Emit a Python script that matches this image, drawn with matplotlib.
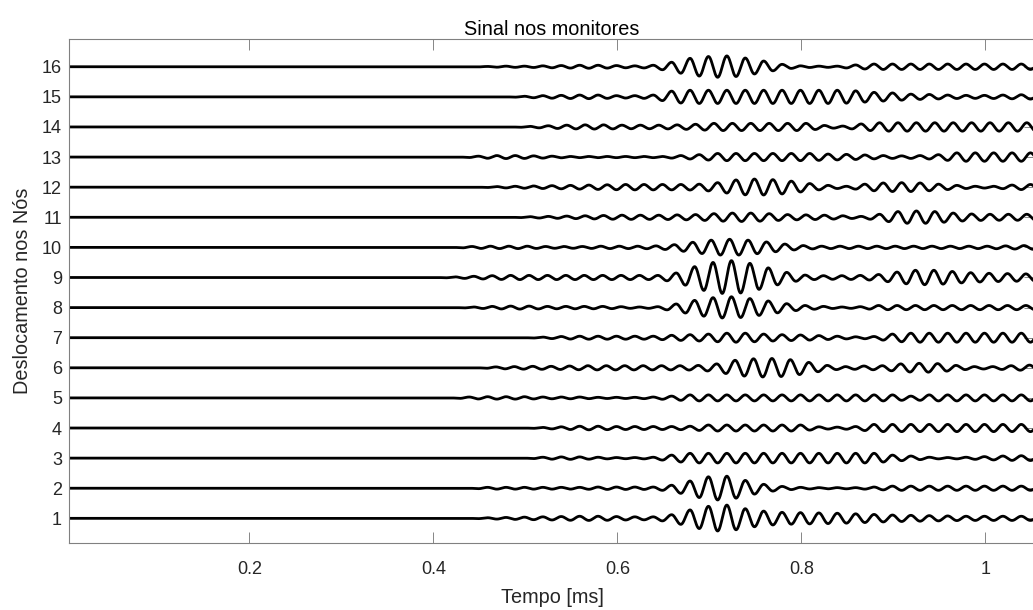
import numpy as np
import matplotlib
matplotlib.use("Agg")
import matplotlib.pyplot as plt

plt.rcParams['font.family'] = ['Liberation Sans', 'DejaVu Sans']

# Monitor signals: each node has a sequence of per-cycle amplitudes
# (one value per carrier period, first crest at FIRST_CREST ms).
PERIOD = 0.02          # ms
FIRST_CREST = 0.399    # ms

node_ids = list(range(1, 17))

amp_node01 = [0, 0, 0, 0.02, 0.03, 0.04, 0.05, 0.06, 0.07, 0.07, 0.06, 0.05, 0.05, 0.12, 0.28, 0.40, 0.44,
              0.32, 0.24, 0.20, 0.19, 0.18, 0.17, 0.15, 0.13, 0.11, 0.10, 0.09, 0.08, 0.07, 0.07, 0.07, 0.07, 0.07]
amp_node02 = [0, 0, 0, 0.03, 0.03, 0.03, 0.03, 0.03, 0.03, 0.04, 0.04, 0.04, 0.04, 0.10, 0.24, 0.38, 0.40,
              0.26, 0.13, 0.06, 0.03, 0.02, 0.02, 0.02, 0.04, 0.07, 0.07, 0.07, 0.07, 0.07, 0.07, 0.07, 0.07, 0.07]
amp_node03 = [0, 0, 0, 0, 0, 0, 0.03, 0.04, 0.04, 0.03, 0.02, 0.02, 0.03, 0.10, 0.16, 0.16, 0.16,
              0.16, 0.16, 0.16, 0.16, 0.16, 0.16, 0.16, 0.16, 0.10, 0.07, 0.03, 0.02, 0.03, 0.05, 0.07, 0.08, 0.08]
amp_node04 = [0, 0, 0, 0, 0, 0, 0.02, 0.04, 0.06, 0.06, 0.05, 0.05, 0.05, 0.05, 0.06, 0.10, 0.10,
              0.10, 0.10, 0.10, 0.10, 0.04, 0.03, 0.05, 0.12, 0.12, 0.12, 0.12, 0.12, 0.12, 0.12, 0.12, 0.12, 0.12]
amp_node05 = [0, 0, 0.03, 0.04, 0.04, 0.04, 0.03, 0.03, 0.03, 0.02, 0.02, 0.02, 0.03, 0.06, 0.10, 0.10, 0.10,
              0.10, 0.10, 0.10, 0.10, 0.10, 0.10, 0.10, 0.10, 0.10, 0.06, 0.10, 0.10, 0.10, 0.10, 0.10, 0.10, 0.10]
amp_node06 = [0, 0, 0, 0.03, 0.04, 0.05, 0.05, 0.06, 0.07, 0.07, 0.07, 0.07, 0.07, 0.07, 0.08, 0.13, 0.25,
              0.30, 0.31, 0.27, 0.18, 0.08, 0.04, 0.06, 0.07, 0.13, 0.15, 0.14, 0.08, 0.04, 0.04, 0.07, 0.09, 0.10]
amp_node07 = [0, 0, 0, 0, 0, 0, 0.02, 0.04, 0.05, 0.05, 0.05, 0.05, 0.05, 0.08, 0.10, 0.12, 0.15,
              0.15, 0.12, 0.10, 0.09, 0.07, 0.05, 0.03, 0.04, 0.12, 0.15, 0.15, 0.15, 0.15, 0.15, 0.15, 0.15, 0.15]
amp_node08 = [0, 0, 0.02, 0.04, 0.05, 0.05, 0.04, 0.04, 0.04, 0.04, 0.03, 0.02, 0.03, 0.12, 0.24, 0.33, 0.36,
              0.30, 0.22, 0.13, 0.07, 0.04, 0.02, 0.03, 0.07, 0.07, 0.07, 0.07, 0.07, 0.07, 0.07, 0.07, 0.07, 0.07]
amp_node09 = [0, 0.02, 0.04, 0.06, 0.07, 0.07, 0.07, 0.07, 0.07, 0.07, 0.07, 0.07, 0.07, 0.15, 0.36, 0.50, 0.56,
              0.47, 0.32, 0.17, 0.08, 0.06, 0.06, 0.07, 0.10, 0.18, 0.24, 0.24, 0.20, 0.16, 0.14, 0.13, 0.12, 0.12]
amp_node10 = [0, 0, 0.03, 0.04, 0.04, 0.04, 0.03, 0.03, 0.03, 0.04, 0.04, 0.04, 0.05, 0.09, 0.17, 0.24, 0.27,
              0.24, 0.18, 0.11, 0.06, 0.04, 0.04, 0.04, 0.04, 0.04, 0.04, 0.04, 0.04, 0.04, 0.04, 0.05, 0.06, 0.07]
amp_node11 = [0, 0, 0, 0, 0, 0.02, 0.03, 0.04, 0.05, 0.06, 0.07, 0.07, 0.07, 0.08, 0.09, 0.12, 0.14,
              0.14, 0.12, 0.09, 0.08, 0.07, 0.05, 0.03, 0.10, 0.19, 0.21, 0.19, 0.14, 0.11, 0.10, 0.10, 0.10, 0.10]
amp_node12 = [0, 0, 0, 0.02, 0.03, 0.04, 0.05, 0.06, 0.07, 0.08, 0.09, 0.09, 0.09, 0.09, 0.10, 0.15, 0.24,
              0.27, 0.25, 0.20, 0.12, 0.06, 0.03, 0.10, 0.14, 0.15, 0.14, 0.10, 0.06, 0.03, 0.03, 0.07, 0.09, 0.10]
amp_node13 = [0, 0, 0.03, 0.05, 0.05, 0.04, 0.03, 0.02, 0.02, 0.02, 0.02, 0.02, 0.02, 0.05, 0.08, 0.12, 0.12,
              0.12, 0.12, 0.12, 0.12, 0.10, 0.09, 0.07, 0.05, 0.04, 0.05, 0.08, 0.14, 0.14, 0.14, 0.14, 0.14, 0.14]
amp_node14 = [0, 0, 0, 0, 0, 0.02, 0.04, 0.06, 0.07, 0.07, 0.06, 0.06, 0.06, 0.07, 0.09, 0.12, 0.12,
              0.12, 0.12, 0.12, 0.12, 0.05, 0.03, 0.10, 0.14, 0.14, 0.14, 0.14, 0.14, 0.14, 0.14, 0.14, 0.14, 0.14]
amp_node15 = [0, 0, 0, 0, 0, 0.02, 0.04, 0.05, 0.06, 0.06, 0.04, 0.04, 0.06, 0.19, 0.22, 0.22, 0.22,
              0.22, 0.22, 0.22, 0.22, 0.22, 0.22, 0.20, 0.15, 0.13, 0.09, 0.08, 0.06, 0.05, 0.05, 0.06, 0.07, 0.08]
amp_node16 = [0, 0, 0, 0.01, 0.02, 0.02, 0.03, 0.04, 0.05, 0.05, 0.04, 0.03, 0.05, 0.15, 0.28, 0.34, 0.36,
              0.29, 0.19, 0.08, 0.03, 0.02, 0.02, 0.06, 0.09, 0.09, 0.09, 0.09, 0.09, 0.09, 0.09, 0.09, 0.09, 0.09]

# Arrival delay of the crests at each node (ms)
crest_delay = [0.0, 0.0, 0.0, 0.0, 0.0, 0.009, 0.0, 0.005,
               0.005, 0.003, 0.006, 0.010, 0.010, 0.006, 0.0, 0.0]

node_amps = [amp_node01, amp_node02, amp_node03, amp_node04, amp_node05, amp_node06,
             amp_node07, amp_node08, amp_node09, amp_node10, amp_node11, amp_node12,
             amp_node13, amp_node14, amp_node15, amp_node16]

x_ticks = [0.2, 0.4, 0.6, 0.8, 1.0]
x_tick_labels = ['0.2', '0.4', '0.6', '0.8', '1']


def monitor_trace(amps, delay, t):
    """Smooth signal through alternating crests/troughs of the given amplitudes."""
    amps = np.asarray(amps, dtype=float)
    crests = FIRST_CREST + delay + PERIOD * np.arange(len(amps))
    troughs = crests + PERIOD / 2
    trough_amp = np.append((amps[:-1] + amps[1:]) / 2, amps[-1])
    ext_t = np.empty(2 * len(amps))
    ext_v = np.empty(2 * len(amps))
    ext_t[0::2], ext_t[1::2] = crests, troughs
    ext_v[0::2], ext_v[1::2] = amps, -trough_amp
    ext_t = np.concatenate([[0.0, crests[0] - PERIOD / 2], ext_t])
    ext_v = np.concatenate([[0.0, 0.0], ext_v])
    idx = np.clip(np.searchsorted(ext_t, t) - 1, 0, len(ext_t) - 2)
    t0, t1 = ext_t[idx], ext_t[idx + 1]
    v0, v1 = ext_v[idx], ext_v[idx + 1]
    u = np.clip((t - t0) / (t1 - t0), 0, 1)
    return v0 + (v1 - v0) * (1 - np.cos(np.pi * u)) / 2


t = np.linspace(0.0, 1.1, 8000)

fig = plt.figure(figsize=(10.33, 6.10), dpi=100)
ax = fig.add_axes([0.0668, 0.1103, 0.9352, 0.8252])

for node, amps, delay in zip(node_ids, node_amps, crest_delay):
    ax.plot(t, node + monitor_trace(amps, delay, t), color='black', lw=2.0,
            solid_joinstyle='round')

axis_grey = (0.15, 0.15, 0.15)
ax.set_xlim(0.004, 1.054)
ax.set_ylim(0.19, 16.91)
ax.set_xticks(x_ticks)
ax.set_xticklabels(x_tick_labels)
ax.set_yticks(node_ids)
ax.set_yticklabels([str(n) for n in node_ids])
ax.tick_params(direction='in', length=8, width=0.6, colors=(0.45, 0.45, 0.45),
               labelcolor=axis_grey, labelsize=13, top=True, right=True)
ax.tick_params(axis='x', pad=13)
ax.tick_params(axis='y', pad=5)
for sp in ax.spines.values():
    sp.set_color((0.5, 0.5, 0.5))
    sp.set_linewidth(0.8)

ax.set_title('Sinal nos monitores', fontsize=14.3, color='black', pad=3)
ax.set_xlabel('Tempo [ms]', fontsize=14.3, color=axis_grey, labelpad=7.5)
ax.set_ylabel('Deslocamento nos Nós', fontsize=14.3, color=axis_grey, labelpad=7)

fig.savefig('out.png', dpi=100)
